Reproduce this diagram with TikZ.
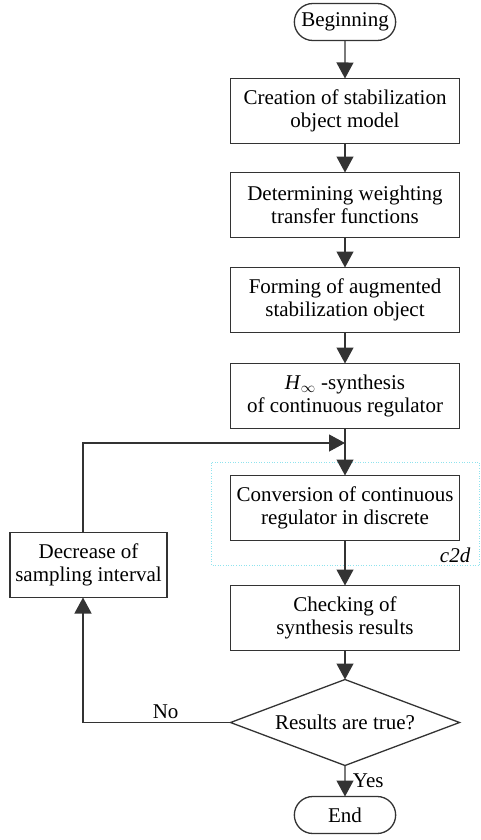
\documentclass[tikz,border=0pt]{standalone}
\usepackage{fontspec}
\setmainfont{Liberation Serif}
\usetikzlibrary{positioning, arrows.meta}
\usetikzlibrary{shapes.geometric, shapes.misc}
\definecolor{edge}{HTML}{333333}
\definecolor{c2dcyan}{HTML}{8FE3EE}
\tikzset{
    block/.style = {
        draw=edge, line width=1.3pt, minimum width=229pt, minimum height=65pt,
        align=center, inner sep=2pt, outer sep=0pt
    },
    term/.style = {
        draw=edge, rounded rectangle, line width=1.3pt,
        minimum width=108pt, minimum height=37pt, outer sep=0pt
    },
    decision/.style = {
        draw=edge, diamond, aspect=2.66, line width=1.3pt,
        minimum width=229pt, minimum height=86pt, inner sep=0pt, outer sep=0pt
    },
    flow/.style = {
        draw=edge, line width=1.2pt, -{Triangle[width=17pt,length=16pt]}
    }
}

\begin{document}
\begin{tikzpicture}[x=1pt, y=-1pt, every node/.style={font=\fontsize{21pt}{23pt}\selectfont}]
    \useasboundingbox (0,0) rectangle (481,840);
    % main column
    \node[term] (start) at (345,22) {Beginning};
    \node[block, below=38pt of start] (model) {Creation of stabilization\\object model};
    \node[block, below=29pt of model] (weight) {Determining weighting\\transfer functions};
    \node[block, below=30pt of weight] (augm) {Forming of augmented\\stabilization object};
    \node[block, below=31pt of augm] (synth) {\textit{H}\textsubscript{$\infty$} -synthesis\\of continuous regulator};
    \node[block, below=47pt of synth] (conv) {Conversion of continuous\\regulator in discrete};
    \node[block, below=45pt of conv] (check) {Checking of\\synthesis results};
    \node[decision, below=29pt of check] (test) {Results are true?};
    \node[term, below=31pt of test] (stop) {End};
    % loop back
    \node[block, minimum width=157pt] (dec) at (88.5,565) {Decrease of\\sampling interval};
    \coordinate (join) at (synth.south |- 0,443);
    % c2d frame
    \draw[c2dcyan, line width=0.6pt, dotted] ([xshift=-19pt,yshift=13pt]conv.north west) rectangle ([xshift=20pt,yshift=-25pt]conv.south east) coordinate (c2dcorner);
    \node[anchor=south east, inner sep=3pt, font=\fontsize{21pt}{23pt}\selectfont\itshape] (c2d) at ([xshift=-6pt]c2dcorner) {c2d};
    % connectors
    \draw[flow] (start) -- (model);
    \draw[flow] (model) -- (weight);
    \draw[flow] (weight) -- (augm);
    \draw[flow] (augm) -- (synth);
    \draw[flow] (synth) -- (conv);
    \draw[flow] (conv) -- (check);
    \draw[flow] (check) -- (test);
    \draw[flow] (test) -- node[right, pos=0.5, xshift=4pt]{Yes} (stop);
    \draw[flow] (test.west) -| node[above, pos=0.22]{No} ([xshift=-5.5pt]dec.south);
    \draw[flow] ([xshift=-5.5pt]dec.north) |- (join);
\end{tikzpicture}
\end{document}
